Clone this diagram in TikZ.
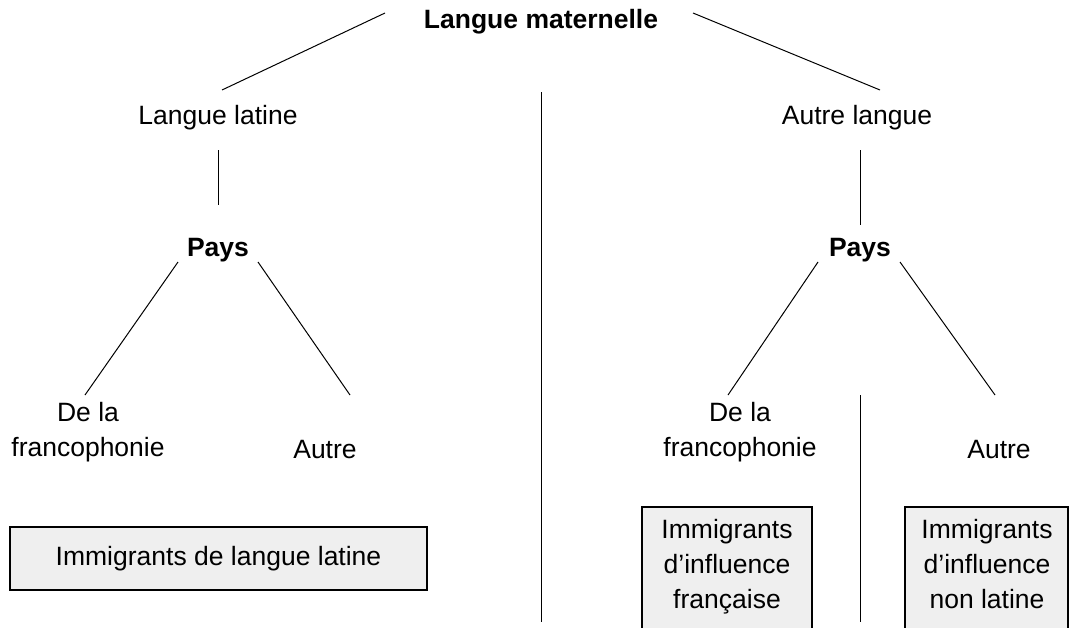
\documentclass[tikz,border=0pt]{standalone}
\usepackage{fontspec}
\setmainfont{Liberation Sans}
\usepackage{xcolor}
\definecolor{boxgray}{HTML}{EFEFEF}
\usetikzlibrary{calc}
\tikzset{
  txt/.style={inner sep=0pt, align=center, font=\fontsize{13.25}{17.5}\selectfont},
  bold/.style={txt, font=\fontsize{13.25}{17.5}\selectfont\bfseries},
  box/.style={draw, line width=0.8pt, fill=boxgray},
}

\begin{document}
\begin{tikzpicture}[x=0.5pt, y=-0.5pt, line width=0.5pt]
\useasboundingbox (0,0) rectangle (1069,627);
\clip (0,0) rectangle (1069,627);
% titles
\node[bold] (lm) at (541,22) {Langue maternelle};
\node[txt] (ll) at (218,118) {Langue latine};
\node[txt] (al) at (857,118) {Autre langue};
\node[bold] (p1) at (218,250) {Pays};
\node[bold] (p2) at (860,250) {Pays};
\node[txt] (f1) at (88,432) {De la\\francophonie};
\node[txt] (a1) at (325,450) {Autre};
\node[txt] (f2) at (740,432) {De la\\francophonie};
\node[txt] (a2) at (999,450) {Autre};
% boxes
\node[box, txt, minimum width=208.5pt, minimum height=31.5pt] (b1) at (218.5,558.5) {Immigrants de langue latine};
\node[box, minimum width=85pt, minimum height=66.5pt] (b2) at (727,573.5) {};
\node[txt] (t2) at (727,567) {Immigrants\\d’influence\\française};
\node[box, minimum width=81.5pt, minimum height=66.5pt] (b3) at (986.5,573.5) {};
\node[txt] (t3) at (987,564) {Immigrants\\d’influence\\non latine};
% separators
\coordinate (m1) at (541,92);
\coordinate (m2) at (541,622);
\coordinate (m3) at (860,395);
\coordinate (m4) at (860,622);
% lines
\draw ($(lm)+(-156,-9)$) -- ($(ll)+(4,-28)$);
\draw ($(lm)+(152,-9)$) -- ($(al)+(23,-28)$);
\draw (m1) -- (m2);
\draw ($(ll)+(0,32)$) -- ($(p1)+(0,-45)$);
\draw ($(al)+(3,32)$) -- ($(p2)+(0,-25)$);
\draw ($(p1)+(-40,12)$) -- ($(f1)+(-3,-37)$);
\draw ($(p1)+(40,12)$) -- ($(a1)+(25,-55)$);
\draw ($(p2)+(-42,12)$) -- ($(f2)+(-12,-37)$);
\draw ($(p2)+(40,12)$) -- ($(a2)+(-4,-55)$);
\draw (m3) -- (m4);
\end{tikzpicture}
\end{document}
